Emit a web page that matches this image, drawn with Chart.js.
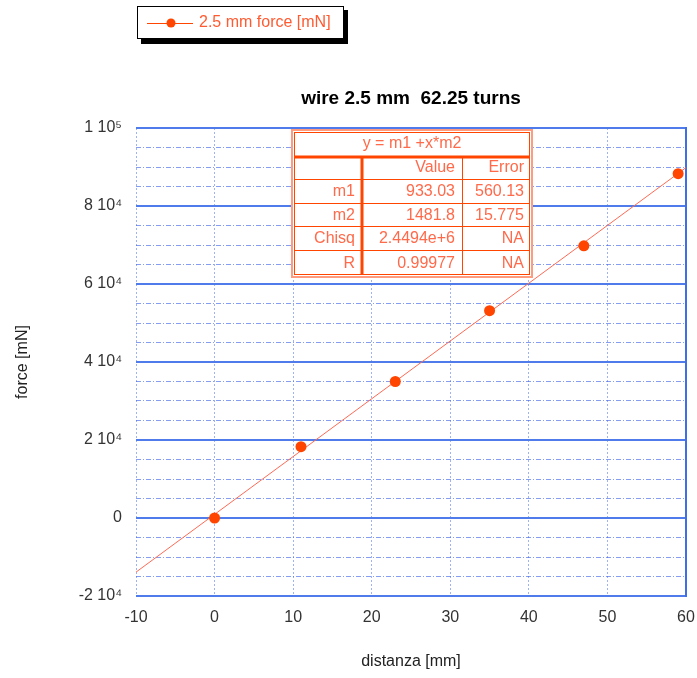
<!DOCTYPE html>
<html><head><meta charset="utf-8">
<script src="https://cdn.jsdelivr.net/npm/chart.js@4/dist/chart.umd.min.js"></script>
<style>html,body{margin:0;padding:0;background:#fff}canvas{display:block}</style>
</head><body>
<canvas id="c" width="697" height="678"></canvas>
<script>
// ---- data ----
const distanza = [0, 11, 23, 35, 47, 59];
const force = [0, 18300, 35000, 53150, 69800, 88300];
const fitX = [-10, 60];
const fitY = [-13885, 89841];
const seriesLabel = '2.5 mm force [mN]';
const chartTitle = 'wire 2.5 mm  62.25 turns';
const xTitle = 'distanza [mm]';
const yTitle = 'force [mN]';
const yTickValues = [-20000, 0, 20000, 40000, 60000, 80000, 100000];
const yTickLabels = ['-2 10\u2074', '0', '2 10\u2074', '4 10\u2074', '6 10\u2074', '8 10\u2074', '1 10\u2075'];
const fitTitle = 'y = m1 +x*m2';
const fitHeader = ['', 'Value', 'Error'];
const fitNames = ['m1', 'm2', 'Chisq', 'R'];
const fitValues = ['933.03', '1481.8', '2.4494e+6', '0.99977'];
const fitErrors = ['560.13', '15.775', 'NA', 'NA'];

const FONT = '"Liberation Sans", Arial, sans-serif';
const ORANGE = '#ff4500';
const TXT = '#ff6a4a';

const overlay = {
  id: 'overlay',
  afterDraw(chart) {
    const ctx = chart.ctx;
    // chart title
    ctx.save();
    ctx.fillStyle = '#000';
    ctx.font = 'bold 19px ' + FONT;
    ctx.textAlign = 'center';
    ctx.textBaseline = 'middle';
    const ca = chart.chartArea;
    ctx.fillText(chartTitle, (ca.left + ca.right) / 2, 99);
    ctx.restore();

    // legend box
    ctx.save();
    ctx.fillStyle = '#000';
    ctx.fillRect(141, 10, 207, 34);
    ctx.fillStyle = '#fff';
    ctx.fillRect(137, 6, 207, 33);
    ctx.strokeStyle = '#000';
    ctx.lineWidth = 1;
    ctx.strokeRect(137.5, 6.5, 206, 32);
    ctx.strokeStyle = ORANGE;
    ctx.lineWidth = 1;
    ctx.beginPath(); ctx.moveTo(147, 23.5); ctx.lineTo(193, 23.5); ctx.stroke();
    ctx.fillStyle = ORANGE;
    ctx.beginPath(); ctx.arc(171, 23, 4.5, 0, Math.PI * 2); ctx.fill();
    ctx.fillStyle = '#ff5a30';
    ctx.font = '16px ' + FONT;
    ctx.textBaseline = 'middle';
    ctx.textAlign = 'left';
    ctx.fillText(seriesLabel, 199, 23);
    ctx.restore();

    // fit table
    ctx.save();
    const L = 292, R = 532, T = 130, B = 277;
    ctx.fillStyle = '#fff';
    ctx.fillRect(L, T, R - L, B - T);
    ctx.strokeStyle = '#ff9c80';
    ctx.lineWidth = 2;
    ctx.strokeRect(L, T, R - L, B - T);
    ctx.strokeStyle = ORANGE;
    ctx.lineWidth = 1;
    ctx.strokeRect(L + 2.5, T + 2.5, R - L - 5, B - T - 5);
    const rows = [157, 179, 203, 226, 250, 274.5];
    const c1 = 362, c2 = 462;
    ctx.lineWidth = 3;
    ctx.beginPath(); ctx.moveTo(L + 2, rows[0]); ctx.lineTo(R - 2, rows[0]); ctx.stroke();
    ctx.beginPath(); ctx.moveTo(c1, rows[0]); ctx.lineTo(c1, rows[5]); ctx.stroke();
    ctx.lineWidth = 1;
    for (let i = 1; i < 5; i++) {
      ctx.beginPath(); ctx.moveTo(L + 2, rows[i] + 0.5); ctx.lineTo(R - 2, rows[i] + 0.5); ctx.stroke();
    }
    ctx.beginPath(); ctx.moveTo(c2 + 0.5, rows[0]); ctx.lineTo(c2 + 0.5, rows[5]); ctx.stroke();
    ctx.fillStyle = TXT;
    ctx.font = '16px ' + FONT;
    ctx.textBaseline = 'middle';
    ctx.textAlign = 'center';
    ctx.fillText(fitTitle, (L + R) / 2, 144);
    ctx.textAlign = 'right';
    ctx.fillText(fitHeader[1], 455, 168);
    ctx.fillText(fitHeader[2], 524, 168);
    for (let i = 0; i < fitNames.length; i++) {
      const y = (rows[i + 1] + rows[i + 2]) / 2 + 1;
      ctx.fillText(fitNames[i], 355, y);
      ctx.fillText(fitValues[i], 455, y);
      ctx.fillText(fitErrors[i], 524, y);
    }
    ctx.restore();
  }
};

new Chart(document.getElementById('c'), {
  type: 'scatter',
  data: {
    datasets: [
      {
        label: seriesLabel,
        data: distanza.map((x, i) => ({ x: x, y: force[i] })),
        showLine: false,
        pointRadius: 5.5,
        pointHoverRadius: 5.5,
        pointBackgroundColor: ORANGE,
        pointBorderColor: ORANGE,
        pointBorderWidth: 0
      },
      {
        label: 'fit',
        data: fitX.map((x, i) => ({ x: x, y: fitY[i] })),
        showLine: true,
        borderColor: '#ff6a55',
        borderWidth: 1,
        pointRadius: 0
      }
    ]
  },
  options: {
    responsive: false,
    animation: false,
    events: [],
    layout: { padding: { top: 128, right: 11, left: 0, bottom: 0 } },
    plugins: { legend: { display: false }, title: { display: false }, tooltip: { enabled: false } },
    scales: {
      x: {
        type: 'linear', min: -10, max: 60,
        afterFit(s) { s.height = 82; s.paddingRight = 0; s.paddingLeft = 0; },
        ticks: { stepSize: 10, color: '#333', font: { size: 16, family: FONT }, padding: 12 },
        grid: { color: 'rgba(80,115,235,0.55)', lineWidth: 1, drawTicks: false },
        border: { display: false, dash: [2, 2] },
        title: { display: true, text: xTitle, color: '#222', font: { size: 16, family: FONT }, padding: { top: 0, bottom: 7 } }
      },
      y: {
        type: 'linear', min: -20000, max: 100000, position: 'left',
        afterFit(s) { s.width = 136; },
        afterBuildTicks(s) { s.ticks = yTickValues.map(v => ({ value: v })); },
        ticks: {
          color: '#333', font: { size: 16, family: FONT }, padding: 14,
          callback(v) { const i = yTickValues.indexOf(v); return i >= 0 ? yTickLabels[i] : ''; }
        },
        grid: { color: '#4f7cea', lineWidth: 2, drawTicks: false },
        border: { display: false },
        title: { display: true, text: yTitle, color: '#222', font: { size: 16, family: FONT }, padding: { top: 13, bottom: 0 } }
      },
      y2: {
        type: 'linear', min: -20000, max: 100000, position: 'right',
        afterFit(s) { s.width = 0; },
        ticks: { display: false, stepSize: 5000 },
        grid: {
          drawTicks: false, lineWidth: 1,
          color(ctx) { return (ctx.tick && ctx.tick.value % 20000 === 0) ? 'rgba(0,0,0,0)' : 'rgba(70,105,230,0.65)'; }
        },
        border: { display: true, color: '#3f6fe6', width: 2, dash: [5, 2, 1, 2] }
      }
    }
  },
  plugins: [overlay]
});
</script>
</body></html>
